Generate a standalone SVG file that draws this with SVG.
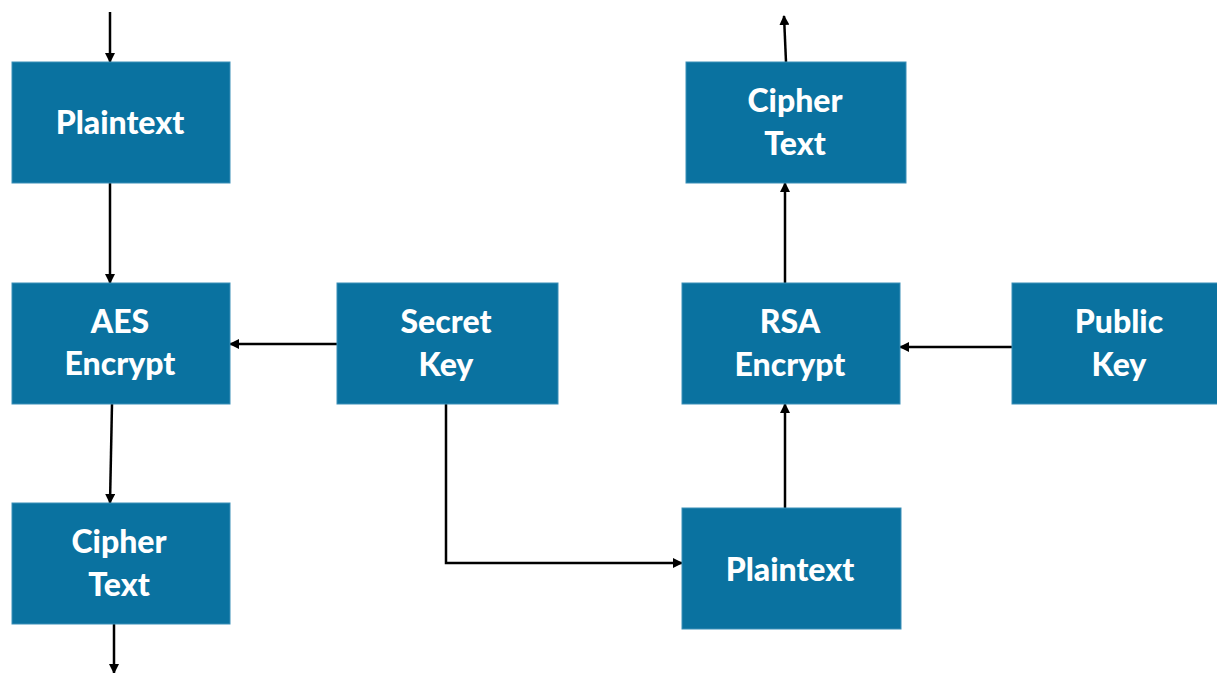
<svg xmlns="http://www.w3.org/2000/svg" width="1217" height="673" viewBox="0 0 1217 673">
<defs>
<style>
.box{fill:#0a72a0;stroke:#3a8fb8;stroke-width:1}
.lbl{font-family:Lato,"Open Sans","Liberation Sans",sans-serif;font-weight:900;font-size:32px;fill:#ffffff;text-anchor:middle}
.con{fill:none;stroke:#000;stroke-width:2.5}
</style>
<marker id="ah" viewBox="0 0 10 10" refX="9" refY="5" markerWidth="4" markerHeight="4" orient="auto" markerUnits="strokeWidth">
<path d="M0,0 L10,5 L0,10 z" fill="#000"/>
</marker>
</defs>
<rect width="1217" height="673" fill="#ffffff"/>
<g id="connectors">
<path class="con" d="M110,12 L110,62" marker-end="url(#ah)"/>
<path class="con" d="M110,183 L110,283" marker-end="url(#ah)"/>
<path class="con" d="M112,404 L110,503" marker-end="url(#ah)"/>
<path class="con" d="M114,624 L114,673" marker-end="url(#ah)"/>
<path class="con" d="M337,344 L230,344" marker-end="url(#ah)"/>
<path class="con" d="M446,404 L446,563 L682,563" marker-end="url(#ah)"/>
<path class="con" d="M785,508 L785,404" marker-end="url(#ah)"/>
<path class="con" d="M785,283 L785,183" marker-end="url(#ah)"/>
<path class="con" d="M786,62 L784,16" marker-end="url(#ah)"/>
<path class="con" d="M1012,347 L900,347" marker-end="url(#ah)"/>
</g>
<g id="plaintext1"><rect class="box" x="12" y="62" width="218" height="121"/><text class="lbl" x="120" y="134">Plaintext</text></g>
<g id="aes"><rect class="box" x="12" y="283" width="218" height="121"/><text class="lbl" x="120" y="333">AES</text><text class="lbl" x="120" y="375">Encrypt</text></g>
<g id="cipher1"><rect class="box" x="12" y="503" width="218" height="121"/><text class="lbl" x="119" y="553">Cipher</text><text class="lbl" x="119" y="596">Text</text></g>
<g id="secretkey"><rect class="box" x="337" y="283" width="221" height="121"/><text class="lbl" x="446" y="333">Secret</text><text class="lbl" x="446" y="376">Key</text></g>
<g id="cipher2"><rect class="box" x="686" y="62" width="220" height="121"/><text class="lbl" x="795" y="112">Cipher</text><text class="lbl" x="795" y="155">Text</text></g>
<g id="rsa"><rect class="box" x="682" y="283" width="218" height="121"/><text class="lbl" x="790" y="333">RSA</text><text class="lbl" x="790" y="376">Encrypt</text></g>
<g id="publickey"><rect class="box" x="1012" y="283" width="210" height="121"/><text class="lbl" x="1119" y="333">Public</text><text class="lbl" x="1119" y="376">Key</text></g>
<g id="plaintext2"><rect class="box" x="682" y="508" width="219" height="121"/><text class="lbl" x="790" y="581">Plaintext</text></g>
</svg>
